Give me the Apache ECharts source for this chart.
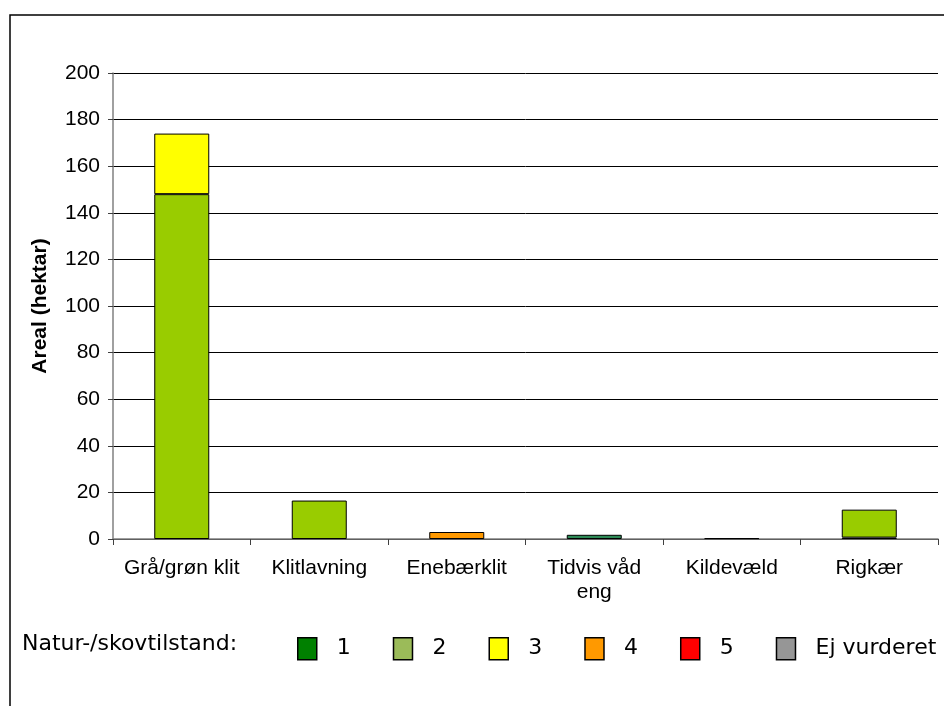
<!DOCTYPE html>
<html><head><meta charset="utf-8">
<script src="https://cdn.jsdelivr.net/npm/echarts@6/dist/echarts.min.js"></script>
<style>html,body{margin:0;padding:0;background:#fff}#c{width:944px;height:706px}</style>
</head><body><div id="c"></div>
<script>
const categories = ['Grå/grøn klit', 'Klitlavning', 'Enebærklit', 'Tidvis våd\neng', 'Kildevæld', 'Rigkær'];
const seriesNames = ['1', '2', '3', '4', '5', 'Ej vurderet'];
const s1 = [0, 0, 0, 1.8, 0.4, 0.6];
const s2 = [148, 16.5, 0, 0, 0, 12];
const s3 = [26, 0, 0, 0, 0, 0];
const s4 = [0, 0, 3, 0, 0, 0];
const s5 = [0, 0, 0, 0, 0, 0];
const sEj = [0, 0, 0, 0, 0, 0];
const yTicks = [0, 20, 40, 60, 80, 100, 120, 140, 160, 180, 200];
const barColors = ['#2E8B57', '#99CC00', '#FFFF00', '#FF9900', '#FF0000', '#969696'];
const legendColors = ['#008000', '#9BBB59', '#FFFF00', '#FF9900', '#FF0000', '#969696'];
const allData = [s1, s2, s3, s4, s5, sEj];

const chart = echarts.init(document.getElementById('c'), null, {renderer: 'canvas'});
const font = 'Liberation Sans, Arial, sans-serif';
chart.setOption({
  animation: false,
  backgroundColor: '#fff',
  graphic: [
    {type: 'rect', shape: {x: 10, y: 15, width: 1000, height: 1000}, style: {fill: 'none', stroke: '#000', lineWidth: 1.5}, z: -1},
    {type: 'text', left: 22, top: 633, style: {text: 'Natur-/skovtilstand:', font: '22px DejaVu Sans', fill: '#000'}}
  ],
  grid: {left: 113, right: 6, top: 73, bottom: 167},
  legend: {
    left: 297, top: 637, width: 660, padding: 0, itemWidth: 19, itemHeight: 22, itemGap: 42,
    textStyle: {fontFamily: 'DejaVu Sans', fontSize: 22, color: '#000', padding: [0, 0, 0, 15]},
    data: seriesNames.map((n, i) => ({name: n, icon: 'rect', itemStyle: {color: legendColors[i], borderColor: '#000', borderWidth: 1.5}}))
  },
  xAxis: {
    type: 'category', data: categories,
    axisLine: {lineStyle: {color: '#808080', width: 1.5}},
    axisTick: {show: true, length: 6, lineStyle: {color: '#404040'}},
    axisLabel: {fontFamily: font, fontSize: 21, color: '#000', margin: 17, interval: 0, lineHeight: 24}
  },
  yAxis: {
    type: 'value', min: yTicks[0], max: yTicks[yTicks.length - 1], interval: 20,
    name: 'Areal (hektar)', nameLocation: 'middle', nameGap: 62,
    nameTextStyle: {fontFamily: font, fontSize: 21, fontWeight: 'bold', color: '#000'},
    axisLine: {show: true, lineStyle: {color: '#808080', width: 1.5}},
    axisTick: {show: true, length: 5, lineStyle: {color: '#404040'}},
    axisLabel: {fontFamily: font, fontSize: 21, color: '#000', margin: 13},
    splitLine: {lineStyle: {color: '#000', width: 1}}
  },
  series: seriesNames.map((n, i) => ({
    name: n, type: 'bar', stack: 'a', barWidth: '40%',
    itemStyle: {color: barColors[i], borderColor: '#000', borderWidth: 1},
    data: allData[i].map(v => v === 0 ? null : v)
  }))
});
</script></body></html>
